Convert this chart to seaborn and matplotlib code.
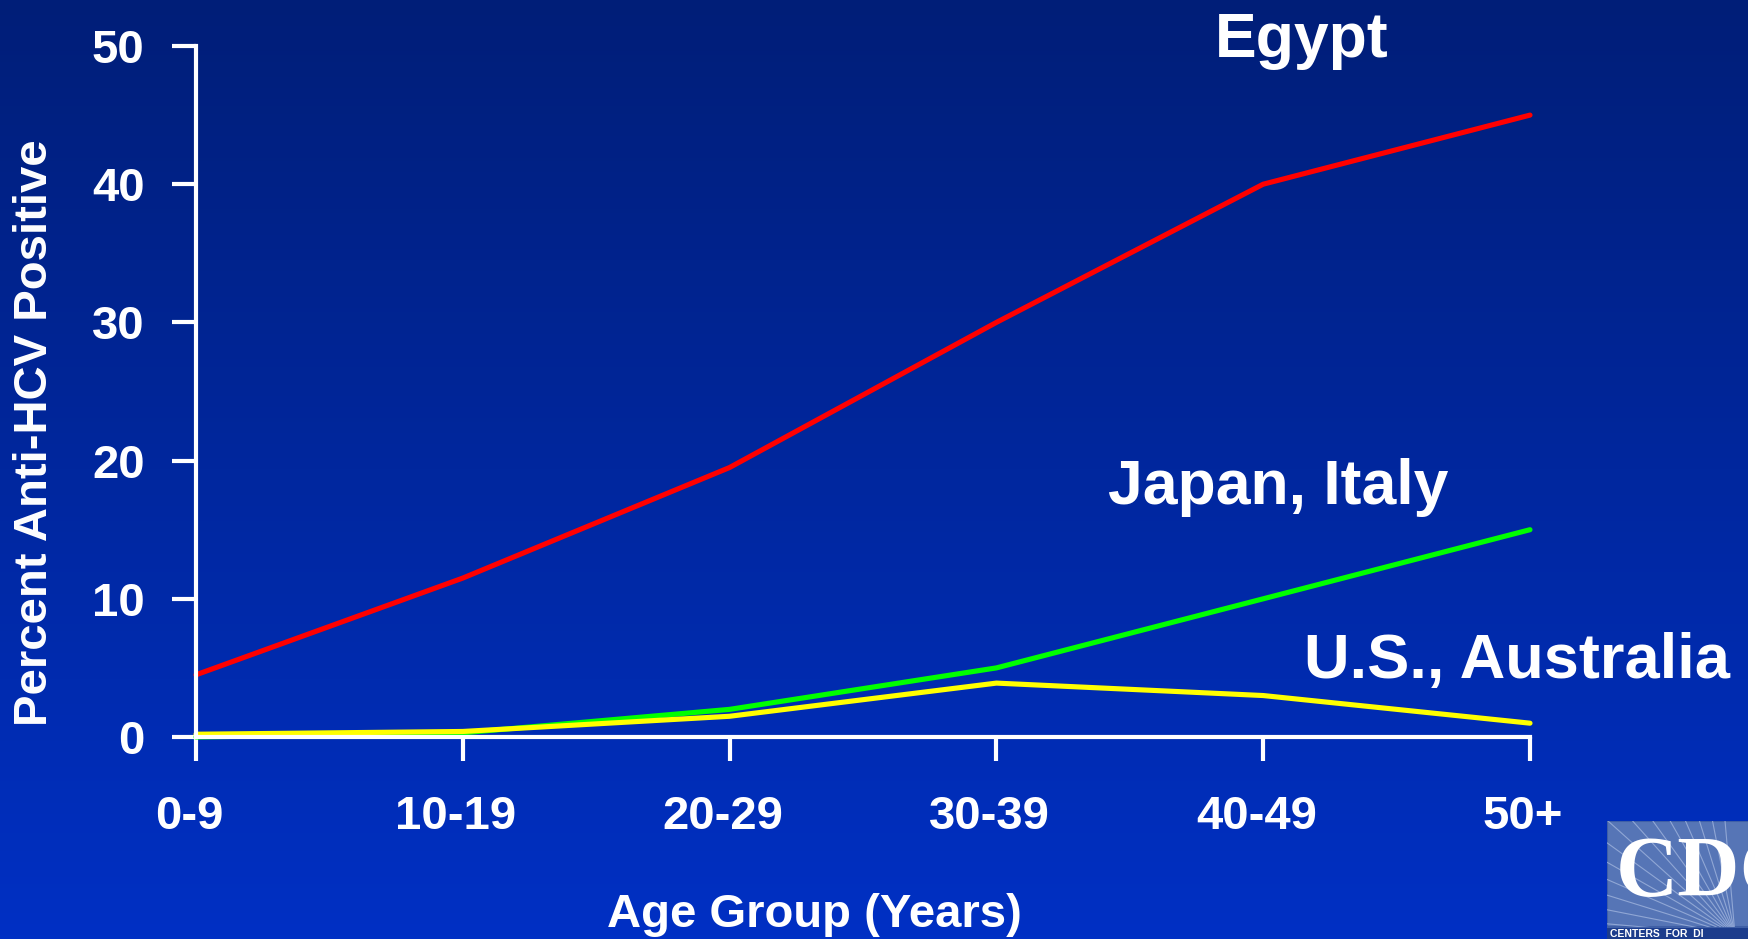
import numpy as np
import pandas as pd
import matplotlib
matplotlib.use("Agg")
import matplotlib.pyplot as plt
import matplotlib.transforms as mtransforms
import seaborn as sns
from matplotlib.colors import LinearSegmentedColormap
from matplotlib.patches import Rectangle

# Anti-HCV prevalence by age group
age_groups = ["0-9", "10-19", "20-29", "30-39", "40-49", "50+"]
egypt = [4.5, 11.5, 19.5, 30.0, 40.0, 45.0]
japan_italy = [0.0, 0.3, 2.0, 5.0, 10.0, 15.0]
us_australia = [0.2, 0.4, 1.5, 3.9, 3.0, 1.0]
series_names = ["Egypt", "Japan, Italy", "U.S., Australia"]
series_colors = ["#FF0000", "#00FF00", "#FFFF00"]
y_ticks = [0, 10, 20, 30, 40, 50]

sns.set_theme(style="ticks")
plt.rcParams["font.family"] = ["Liberation Sans", "DejaVu Sans"]
plt.rcParams["font.weight"] = "bold"

W, H = 1749, 939
fig = plt.figure(figsize=(W / 100, H / 100), dpi=100)

# slide background: dark navy at top fading to brighter blue
bg = fig.add_axes([0, 0, 1, 1], zorder=-10)
grad = np.linspace(0, 1, 256).reshape(-1, 1)
cmap = LinearSegmentedColormap.from_list("slide", ["#001E78", "#0030C4"])
bg.imshow(grad, aspect="auto", cmap=cmap, extent=[0, 1, 0, 1], origin="upper")
bg.axis("off")

ax = fig.add_axes([196 / W, 1 - 737 / H, (1530 - 196) / W, (737 - 46) / H])
ax.set_facecolor("none")

n = len(age_groups)
df = pd.DataFrame({
    "pos": np.tile(np.arange(n), len(series_names)),
    "pct": egypt + japan_italy + us_australia,
    "series": np.repeat(series_names, n),
})
sns.lineplot(data=df, x="pos", y="pct", hue="series", hue_order=series_names,
             palette=series_colors, linewidth=3.7, estimator=None,
             legend=False, ax=ax)
for ln in ax.lines:
    ln.set_clip_on(False)
    ln.set_solid_joinstyle("miter")

ax.set_xlim(0, n - 1)
ax.set_ylim(0, 50)
ax.set_xticks(np.arange(n))
ax.set_xticklabels(age_groups)
ax.set_yticks(y_ticks)

for side in ("top", "right"):
    ax.spines[side].set_visible(False)
for side in ("left", "bottom"):
    ax.spines[side].set_color("white")
    ax.spines[side].set_linewidth(3)

ax.tick_params(axis="both", direction="out", length=17, width=3,
               color="white", labelcolor="white", labelsize=34,
               bottom=True, left=True)
ax.tick_params(axis="x", pad=25)
ax.tick_params(axis="y", pad=20)
shift = mtransforms.ScaledTranslation(-7 / 100, 0, fig.dpi_scale_trans)
for lab in ax.get_xticklabels():
    lab.set_fontweight("bold")
    lab.set_transform(lab.get_transform() + shift)
for lab in ax.get_yticklabels():
    lab.set_fontweight("bold")

ax.set_xlabel("Age Group (Years)", fontsize=34, fontweight="bold", color="white")
ax.set_ylabel("Percent Anti-HCV Positive", fontsize=34, fontweight="bold", color="white")
ax.xaxis.set_label_coords(814 / W, 1 - 915 / H, transform=fig.transFigure)
ax.yaxis.set_label_coords(35 / W, 1 - 433 / H, transform=fig.transFigure)
ax.xaxis.label.set_va("center")
ax.yaxis.label.set_va("center")

# series names placed beside their curves
fig.text(1302 / W, 1 - 57 / H, series_names[0], fontsize=45, fontweight="bold",
         color="white", ha="center", va="baseline")
fig.text(1278 / W, 1 - 504 / H, series_names[1], fontsize=45, fontweight="bold",
         color="white", ha="center", va="baseline")
fig.text(1304 / W, 1 - 678 / H, series_names[2], fontsize=45.5, fontweight="bold",
         color="white", ha="left", va="baseline")

# CDC logo in the lower-right corner, running off the slide edge
lx0, ly0 = 1607, 821
logo = fig.add_axes([lx0 / W, 0, (W - lx0) / W, (H - ly0) / H])
logo.set_xlim(lx0, W)
logo.set_ylim(H, ly0)
logo.axis("off")
panel = Rectangle((lx0, ly0), W - lx0, 927 - ly0, facecolor="#5675B6",
                  edgecolor="none")
logo.add_patch(panel)
logo.add_patch(Rectangle((lx0, 927), W - lx0, H - 927, facecolor="#1C3C8C",
                         edgecolor="none"))
for ang in np.linspace(95, 175, 14):
    t = np.deg2rad(ang)
    x1, y1 = 1735, 935
    x2, y2 = x1 + 220 * np.cos(t), y1 - 220 * np.sin(t)
    ray, = logo.plot([x1, x2], [y1, y2], color="#A9BCE2", linewidth=0.8, alpha=0.7)
    ray.set_clip_path(panel)
logo.add_patch(Rectangle((lx0, ly0), W - lx0, 927 - ly0, facecolor="none",
                         edgecolor="#3F5FA6", linewidth=1.5))
logo.text(1616, 896, "CDC", fontsize=62, fontweight="bold", color="white",
          family=["Liberation Serif", "DejaVu Serif"], ha="left", va="baseline",
          clip_on=True)
logo.text(1610, 937, "CENTERS  FOR  DI", fontsize=7.5, fontweight="bold",
          color="white", ha="left", va="baseline")

fig.savefig("out.png", dpi=100)
